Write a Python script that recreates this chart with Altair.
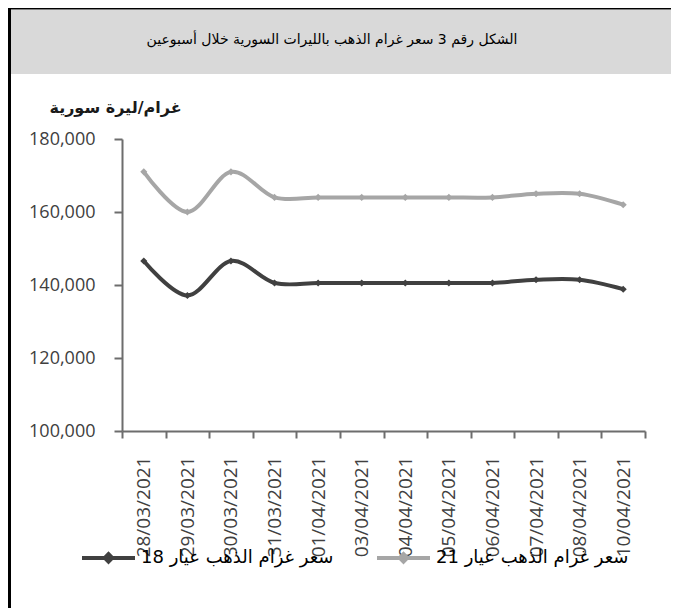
import altair as alt
import pandas as pd

dates = ["28/03/2021", "29/03/2021", "30/03/2021", "31/03/2021", "01/04/2021",
         "03/04/2021", "04/04/2021", "05/04/2021", "06/04/2021", "07/04/2021",
         "08/04/2021", "10/04/2021"]
k18 = [146571, 137143, 146571, 140571, 140571, 140571, 140571, 140571, 140571,
       141429, 141429, 138857]
k21 = [171000, 160000, 171000, 164000, 164000, 164000, 164000, 164000, 164000,
       165000, 165000, 162000]
series_names = ["سعر غرام الذهب عيار 18", "سعر غرام الذهب عيار 21"]
series_colors = ["#404040", "#a6a6a6"]
title_text = "الشكل رقم 3 سعر غرام الذهب بالليرات السورية خلال أسبوعين"
y_title = "غرام/ليرة سورية"
y_ticks = [100000, 120000, 140000, 160000, 180000]

RLE = "\u202b"
PDF = "\u202c"
names = [RLE + s + PDF for s in series_names]

rows = []
for name, vals in zip(names, [k18, k21]):
    for d, v in zip(dates, vals):
        rows.append({"date": d, "value": v, "series": name})
df = pd.DataFrame(rows)

W, H = 523, 292
PL, PT, PR, PB = 114, 131, 26, 177

legend_symbol = "M-1,0L-0.14,0L0,-0.14L0.14,0L1,0L0.14,0L0,0.14L-0.14,0Z"

x_enc = alt.X(
    "date:N", sort=dates, title=None, bandPosition=0.5,
    scale=alt.Scale(type="band", paddingInner=0, paddingOuter=0),
    axis=alt.Axis(labelAngle=-90, tickBand="extent", labelFont="Open Sans",
                  labelFontSize=19, labelColor="#404040", labelPadding=18,
                  tickSize=7, tickColor="#6d6d6d", tickWidth=2,
                  domainColor="#6d6d6d", domainWidth=2, grid=False),
)
y_enc = alt.Y(
    "value:Q",
    scale=alt.Scale(domain=[100000, 180000], nice=False, zero=False),
    axis=alt.Axis(values=y_ticks, format=",.0f", labelFont="Open Sans",
                  labelFontSize=18, labelColor="#404040", labelPadding=19,
                  tickSize=8, tickColor="#6d6d6d", tickWidth=2,
                  domainColor="#6d6d6d", domainWidth=2, grid=False,
                  title=RLE + y_title + PDF, titleAngle=0, titleAlign="center",
                  titleBaseline="alphabetic", titleX=-7, titleY=-27,
                  titleFont="DejaVu Sans", titleFontSize=16,
                  titleFontWeight="bold", titleColor="#1a1a1a"),
)
color_enc = alt.Color(
    "series:N",
    scale=alt.Scale(domain=names, range=series_colors),
    legend=alt.Legend(title=None, orient="none", direction="horizontal",
                      legendX=-42, legendY=390, symbolType=legend_symbol,
                      symbolSize=2809, symbolStrokeWidth=4, labelOffset=4,
                      labelFont="DejaVu Sans", labelFontSize=18, labelLimit=0,
                      labelColor="#000000", columnPadding=35),
)

base = alt.Chart(df)
lines = base.mark_line(interpolate="cardinal", strokeWidth=4).encode(
    x=x_enc, y=y_enc, color=color_enc)
points = base.mark_point(shape="diamond", filled=True, size=50, opacity=1).encode(
    x=x_enc, y=y_enc, color=color_enc)

deco = alt.Chart(pd.DataFrame({"t": [RLE + title_text + PDF]}))
band = deco.mark_rect(color="#d9d9d9").encode(
    x=alt.value(-111), x2=alt.value(W + PR), y=alt.value(-129), y2=alt.value(-65))
left_border = deco.mark_rule(color="#000000", strokeWidth=3).encode(
    x=alt.value(-112.5), y=alt.value(-PT), y2=alt.value(H + PB))
top_border = deco.mark_rule(color="#000000", strokeWidth=2).encode(
    y=alt.value(-130.5), x=alt.value(-PL), x2=alt.value(W + PR))
title = deco.mark_text(font="DejaVu Sans", fontSize=14, color="#000000",
                       align="center", baseline="middle").encode(
    text="t:N", x=alt.value(210), y=alt.value(-99))

chart = alt.layer(band, left_border, top_border, title, lines, points).properties(
    width=W, height=H,
    autosize=alt.AutoSizeParams(type="none"),
    padding={"left": PL, "top": PT, "right": PR, "bottom": PB},
    background="#ffffff",
).configure_view(strokeWidth=0)

chart.save("out.html", embed_options={"renderer": "svg", "actions": False})
